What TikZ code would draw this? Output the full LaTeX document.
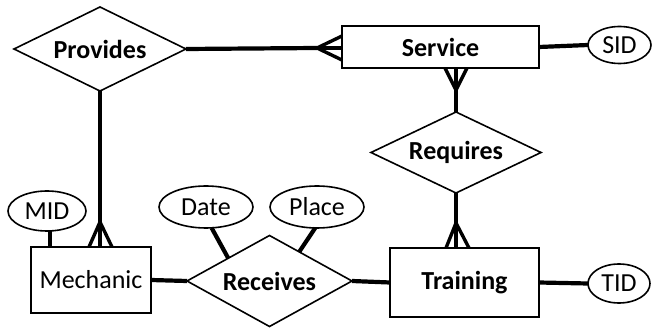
\documentclass[tikz,border=0pt]{standalone}
\usepackage{fontspec}
\setmainfont{Carlito}
\usetikzlibrary{shapes.geometric,calc}
\begin{document}
\begin{tikzpicture}[x=1pt,y=-1pt,
  ent/.style={draw,line width=1.6pt,rectangle,inner sep=0pt,outer sep=0pt,font=\fontsize{26}{30}\selectfont},
  rel/.style={draw,line width=1.6pt,diamond,aspect=2.2,inner sep=0pt,outer sep=0pt,font=\bfseries\fontsize{26}{30}\selectfont},
  att/.style={draw,line width=1.6pt,ellipse,inner sep=0pt,outer sep=0pt,font=\fontsize{26}{30}\selectfont},
  conn/.style={line width=4.2pt},
  foot/.style={line width=3.4pt}]
\useasboundingbox (0,0) rectangle (655,328);
% nodes
\node[rel,minimum width=172,minimum height=84] (Provides) at (100,49) {Provides};
\node[ent,font=\bfseries\fontsize{26}{30}\selectfont,minimum width=197,minimum height=42] (Service) at (440.5,47) {Service};
\node[att,minimum width=63,minimum height=37] (SID) at (619.5,45) {SID};
\node[rel,minimum width=170,minimum height=81] (Requires) at (456,152.5) {Requires};
\node[ent,font=\bfseries\fontsize{26}{30}\selectfont,minimum width=149,minimum height=69] (Training) at (464.5,282.5) {Training};
\node[att,minimum width=62,minimum height=39] (TID) at (619,283.5) {TID};
\node[rel,minimum width=165,minimum height=91] (Receives) at (269.5,281) {Receives};
\node[ent,minimum width=120,minimum height=66] (Mechanic) at (91,280) {Mechanic};
\node[att,minimum width=78,minimum height=40] (MID) at (47,211) {MID};
\node[att,minimum width=94,minimum height=42] (Date) at (206,207) {Date};
\node[att,minimum width=94,minimum height=42] (Place) at (317,207) {Place};
% Provides -- Service (many at Service)
\coordinate (cfS) at ($(Service.west)+(-25,1)$);
\draw[conn] (Provides.east) -- (cfS);
\draw[foot] ($(Service.west)+(0,-11)$) -- (cfS) -- ($(Service.west)+(0,13)$);
\draw[foot] (cfS) -- ($(Service.west)+(0,1)$);
% Service -- Requires (many at Service)
\coordinate (sb) at (Service.south -| Requires.north);
\coordinate (cfR) at ($(sb)+(0,22)$);
\draw[conn] (Requires.north) -- (cfR);
\draw[foot] ($(sb)+(-11,0)$) -- (cfR) -- ($(sb)+(11,0)$);
\draw[foot] (cfR) -- (sb);
% Requires -- Training (many at Training)
\coordinate (tt) at (Training.north -| Requires.south);
\coordinate (cfT) at ($(tt)+(0,-25)$);
\draw[conn] (Requires.south) -- (cfT);
\draw[foot] ($(tt)+(-10,0)$) -- (cfT) -- ($(tt)+(13,0)$);
\draw[foot] (cfT) -- (tt);
% Provides -- Mechanic (many at Mechanic)
\coordinate (mt) at (Mechanic.north -| Provides.south);
\coordinate (cfM) at ($(mt)+(0,-25)$);
\draw[conn] (Provides.south) -- (cfM);
\draw[foot] ($(mt)+(-11,0)$) -- (cfM) -- ($(mt)+(12,0)$);
\draw[foot] (cfM) -- (mt);
% Mechanic -- Receives -- Training
\draw[conn] (Mechanic.east) -- (Receives.west);
\draw[conn] (Receives.east) -- (Training.west);
% attributes
\draw[conn] (Service.east) -- (SID.west);
\draw[conn] (Training.east) -- (TID.west);
\draw[conn] (MID.south -| 50,0) -- (Mechanic.north -| 50,0);
\draw[conn] (Date.-75) -- ($(Receives.north)!0.5!(Receives.west)$);
\draw[conn] (Place.-95) -- ($(Receives.north)!0.36!(Receives.east)$);
\end{tikzpicture}
\end{document}
